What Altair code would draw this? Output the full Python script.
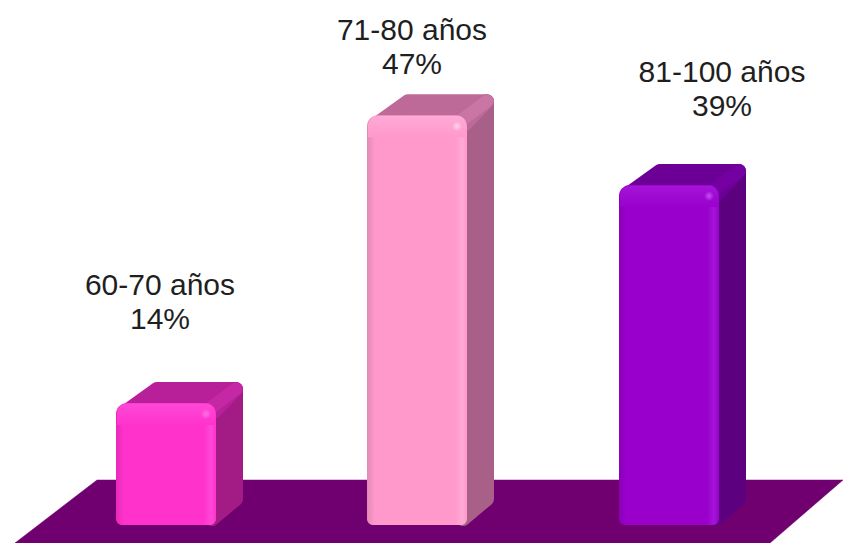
import altair as alt
import pandas as pd

categories = ["60-70 años", "71-80 años", "81-100 años"]
shares = [14, 47, 39]
label_texts = ["14%", "47%", "39%"]
front_colors = ["#ff33cc", "#ff99cc", "#9900cc"]
front_light = ["#ff48d8", "#ffaad6", "#a514d8"]
front_dark = ["#e62ab8", "#e08ab4", "#8a00b8"]
top_colors = ["#b8209a", "#bd6a98", "#6c0096"]
side_colors = ["#a31c86", "#a86088", "#5c0080"]
bevel_colors = ["#cf30ae", "#d47fae", "#7d00ad"]
glow_colors = ["#ff77e6", "#ffdcf0", "#c95cf5"]

# layout, in scale units: x runs along the image width, y is in percent
W, H = 843, 543
PX = 8.72
BASE_PX = 525
bar_left = [116, 367, 619]
bar_width = 100
label_x = [160, 412, 722]
label_gap = [83 / PX, 50 / PX, 78 / PX]
line_gap = 34 / PX
floor_x = [97, 843, 770, 15, 97]
floor_y = [45 / PX, 45 / PX, -18 / PX, -18 / PX, 45 / PX]
face_stroke = 14

x_scale = alt.Scale(domain=[0, W], range=[0, W], nice=False, zero=False)
y_scale = alt.Scale(domain=[-(H - BASE_PX) / PX, BASE_PX / PX], range=[H, 0], nice=False, zero=False)
X = lambda f="x": alt.X(f"{f}:Q", scale=x_scale, axis=None)
Y = lambda f="y": alt.Y(f"{f}:Q", scale=y_scale, axis=None)


def polygon(points, color, width=0.5):
    points = points + points[:1]
    df = pd.DataFrame(points, columns=["x", "y"]).assign(o=range(len(points)))
    return alt.Chart(df).mark_line(
        fill=color, stroke=color, strokeWidth=width, strokeJoin="round"
    ).encode(x=X(), y=Y(), order="o:O")


def h_gradient(dark, mid, light):
    return alt.Gradient(
        gradient="linear", x1=0, x2=1, y1=0, y2=0,
        stops=[
            alt.GradientStop(offset=0, color=dark),
            alt.GradientStop(offset=0.08, color=mid),
            alt.GradientStop(offset=0.88, color=mid),
            alt.GradientStop(offset=0.95, color=light),
            alt.GradientStop(offset=1, color=mid),
        ],
    )


layers = [polygon(list(zip(floor_x, floor_y)), "#700070")]

for i, value in enumerate(shares):
    x0, x1 = bar_left[i], bar_left[i] + bar_width

    # side and top faces are inset and stroked with round joins, which softens the corners
    layers.append(polygon([
        (x1 - 4, value - 4 / PX), (x1 + 20, value + 14 / PX),
        (x1 + 20, 26 / PX), (x1 - 4, 6 / PX),
    ], side_colors[i], face_stroke))
    layers.append(polygon([
        (x0 + 9, value - 9 / PX), (x0 + 41, value + 14 / PX),
        (x1 + 20, value + 14 / PX), (x1 - 2, value - 9 / PX),
    ], top_colors[i], face_stroke))

    # lighter ridge between top and side
    ridge = pd.DataFrame({
        "x": [x1 - 4, x1 + 20], "y": [value - 4 / PX, value + 14 / PX], "o": [0, 1],
    })
    layers.append(alt.Chart(ridge).mark_line(
        stroke=bevel_colors[i], strokeWidth=13, strokeCap="round", opacity=0.55
    ).encode(x=X(), y=Y(), order="o:O"))

    # front face
    front = pd.DataFrame({"x": [x0], "x2": [x1], "y": [0], "y2": [value]})
    layers.append(alt.Chart(front).mark_bar(
        cornerRadiusTopLeft=11, cornerRadiusTopRight=11,
        cornerRadiusBottomLeft=6, cornerRadiusBottomRight=6,
        fill=h_gradient(front_dark[i], front_colors[i], front_light[i]),
    ).encode(x=X(), x2="x2:Q", y=Y(), y2="y2:Q"))

    # soft shine along the top edge of the front face
    shine = pd.DataFrame({"x": [x0 + 1], "x2": [x1 - 1], "y": [value - 22 / PX], "y2": [value - 0.1]})
    layers.append(alt.Chart(shine).mark_bar(
        cornerRadiusTopLeft=10, cornerRadiusTopRight=10,
        fill=alt.Gradient(
            gradient="linear", x1=0, x2=0, y1=0, y2=1,
            stops=[
                alt.GradientStop(offset=0, color=front_light[i]),
                alt.GradientStop(offset=1, color=front_colors[i]),
            ],
        ),
    ).encode(x=X(), x2="x2:Q", y=Y(), y2="y2:Q"))

    # small glint at the upper right corner
    glint = pd.DataFrame({"x": [x1 - 10], "y": [value - 11 / PX]})
    layers.append(alt.Chart(glint).mark_point(
        filled=True, size=80, opacity=0.9,
        fill=alt.Gradient(
            gradient="radial", x1=0.5, y1=0.5, x2=0.5, y2=0.5, r1=0, r2=0.5,
            stops=[
                alt.GradientStop(offset=0, color=glow_colors[i]),
                alt.GradientStop(offset=1, color=front_light[i]),
            ],
        ),
    ).encode(x=X(), y=Y()))

labels = pd.DataFrame(
    [
        {"x": label_x[i], "y": shares[i] + label_gap[i] + line_gap * k, "text": s}
        for i in range(3)
        for k, s in ((1, categories[i]), (0, label_texts[i]))
    ]
)
layers.append(alt.Chart(labels).mark_text(
    font="Liberation Sans", fontSize=30, color="#1f1f1f", baseline="middle", align="center"
).encode(x=X(), y=Y(), text="text:N"))

chart = alt.layer(*layers).properties(
    width=W, height=H, padding=0, autosize=alt.AutoSizeParams(type="none"),
    background="white",
).configure_view(stroke=None)

chart.save("out.html", embed_options={"renderer": "svg", "actions": False})
